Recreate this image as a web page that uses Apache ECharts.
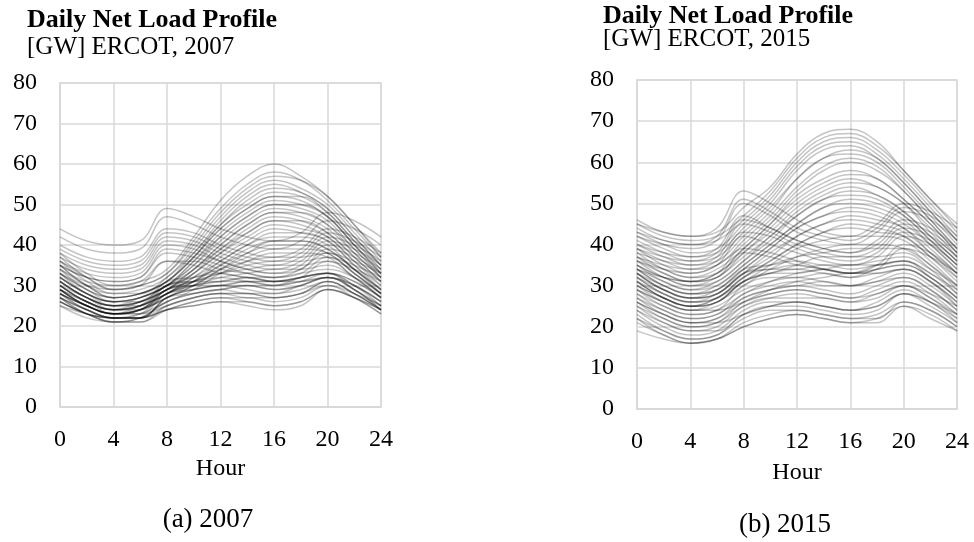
<!DOCTYPE html>
<html>
<head>
<meta charset="utf-8">
<script src="https://cdn.jsdelivr.net/npm/echarts@6/dist/echarts.min.js"></script>
<style>
  html, body { margin: 0; padding: 0; background: #fff; }
  #chart { width: 974px; height: 542px; }
</style>
</head>
<body>
<div id="chart"></div>
<script>
// Hours sampled every two hours across the day
const hours = [0, 2, 4, 6, 8, 10, 12, 14, 16, 18, 20, 22, 24];
const xTicks = [0, 4, 8, 12, 16, 20, 24];
const yTicks = [0, 10, 20, 30, 40, 50, 60, 70, 80];

// ERCOT 2007 daily net load profiles [GW]
const profiles2007 = [
  // summer days, afternoon peak
  [38,33,30,31,34,42,51,57,60,57,52,45,38],
  [37,32,29,30,33,41,49,55,58,56,51,44,37],
  [36,32,29,30,33,40,48,54,57,56,52,45,37],
  [36,31,28,29,32,39,47,53,56,54,50,43,36],
  [35,30,28,28,32,38,46,52,55,53,49,42,35],
  [35,30,27,28,31,37,45,50,53,52,48,41,35],
  [34,30,27,28,31,38,45,51,54,53,49,42,35],
  [34,29,27,28,31,37,44,49,52,51,47,40,34],
  [33,29,27,28,31,37,44,49,52,52,48,41,34],
  [33,29,26,27,30,36,43,48,51,50,47,40,33],
  [33,28,26,27,30,35,42,47,50,49,46,39,33],
  [32,28,26,27,30,36,42,47,50,50,47,40,33],
  [32,28,26,27,30,35,41,46,49,48,45,38,32],
  [32,28,25,27,30,34,40,45,48,47,44,38,32],
  [31,27,25,26,29,34,39,44,47,46,43,37,31],
  [31,27,25,26,29,34,40,45,48,48,45,39,32],
  [31,27,25,26,29,33,38,43,46,45,42,36,31],
  [30,27,24,26,29,33,38,42,45,44,42,36,30],
  [30,26,24,25,28,33,39,43,46,46,43,37,31],
  [30,26,24,25,28,32,37,41,44,43,41,35,30],
  [29,26,24,25,28,32,36,40,42,42,40,34,29],
  [29,26,23,25,28,31,35,39,41,41,39,34,29],
  [29,25,23,24,27,31,36,40,43,43,41,35,29],
  [29,25,23,24,28,31,35,38,40,40,38,33,28],
  [28,25,23,24,27,30,34,37,39,39,38,33,28],
  [28,25,23,24,27,30,34,38,41,41,39,34,28],
  [27,24,22,23,26,29,33,36,38,38,37,32,27],
  // shoulder days, moderate afternoon
  [31,27,25,26,30,32,34,36,37,37,38,34,29],
  [30,26,24,25,29,31,33,35,36,36,37,33,28],
  [29,25,23,24,29,31,33,34,35,35,36,32,27],
  [28,25,23,24,28,30,32,33,34,34,35,32,27],
  // winter days, morning and evening peaks
  [44,41,40,41,49,47,44,42,41,43,48,46,42],
  [42,39,38,39,47,45,42,40,39,41,46,44,40],
  [40,37,36,37,44,43,40,38,37,39,44,42,38],
  [39,36,35,36,43,42,39,37,36,38,43,41,37],
  [38,35,34,35,42,41,38,36,35,37,42,40,36],
  [37,34,33,34,41,40,37,35,34,36,41,39,35],
  [36,33,32,33,40,39,36,34,33,35,40,38,34],
  [35,32,31,32,38,37,35,33,32,34,38,36,33],
  [35,32,31,32,39,38,36,34,33,34,39,37,33],
  [34,31,30,31,36,36,34,33,32,33,37,35,32],
  [33,30,29,30,36,35,33,32,31,32,36,34,31],
  // mild days, flat midday
  [32,28,26,26,31,32,33,32,32,33,34,32,28],
  [31,27,25,25,30,31,31,32,31,32,33,31,27],
  [30,26,24,25,30,31,32,31,30,31,33,31,27],
  [30,26,24,24,29,30,31,31,30,32,33,30,26],
  [29,25,23,24,29,30,30,31,31,31,32,30,26],
  [29,25,23,23,28,29,30,29,28,30,32,30,26],
  [28,24,22,23,28,30,31,32,31,32,33,30,25],
  [28,24,22,22,27,28,29,30,29,30,32,29,25],
  [27,24,22,22,27,29,30,31,31,32,33,29,25],
  [27,23,22,22,27,29,30,30,29,30,32,29,24],
  [27,23,21,22,26,28,29,28,28,29,31,28,24],
  [26,23,21,22,26,28,29,30,30,31,32,29,24],
  [26,23,22,22,25,27,28,28,27,28,31,28,24],
  [26,23,21,21,25,27,28,27,27,28,31,28,24],
  [25,22,21,21,24,26,27,27,26,27,30,27,23],
  [25,23,22,22,24,25,26,25,24,25,29,27,23],
  [26,23,22,22,24,25,26,26,25,26,29,27,24],
  [27,24,22,22,24,26,27,26,25,26,29,27,24],
  [28,25,23,23,25,27,28,28,27,28,30,28,25]
];

// ERCOT 2015 daily net load profiles [GW]
const profiles2015 = [
  // summer days, afternoon peak
  [46,43,42,43,49,54,62,67,68,65,58,51,45],
  [45,42,41,42,47,53,61,66,67,64,58,51,44],
  [44,41,40,41,46,52,60,65,66,63,57,50,43],
  [43,40,38,39,45,51,59,64,65,62,56,49,42],
  [42,39,37,38,44,50,58,63,64,61,55,48,41],
  [41,38,36,37,43,49,56,61,63,61,55,48,41],
  [40,37,35,36,42,48,56,61,62,60,54,47,40],
  [39,36,34,35,41,47,54,59,61,59,53,46,39],
  [39,35,33,35,40,46,53,58,60,58,53,46,39],
  [38,34,32,34,39,45,52,56,58,56,51,45,38],
  [37,34,32,33,39,45,51,55,57,56,51,45,38],
  [37,33,31,33,38,44,50,54,56,54,50,44,37],
  [36,33,31,32,38,43,49,53,55,54,50,43,37],
  [36,32,30,32,37,42,48,52,54,52,48,42,36],
  [35,32,30,31,36,42,47,51,53,52,48,42,36],
  [35,31,29,31,36,41,47,51,52,51,47,41,35],
  [34,31,29,30,35,40,45,49,51,50,47,41,35],
  [34,30,28,30,35,40,45,49,50,49,46,40,34],
  [33,30,28,29,34,39,44,47,49,48,45,40,34],
  [33,29,27,29,34,39,44,47,48,47,44,39,33],
  [32,29,27,28,33,37,42,45,47,46,44,38,33],
  [32,28,26,28,33,38,42,45,46,45,43,38,32],
  [31,28,26,27,32,36,40,43,45,44,42,37,32],
  [31,27,25,27,32,36,40,43,44,43,42,37,31],
  [30,27,25,27,31,35,39,41,42,42,41,36,30],
  [29,26,24,26,30,34,37,39,40,40,39,35,29],
  // winter days, morning and evening peaks
  [45,43,42,44,53,50,46,43,42,45,50,48,44],
  [43,41,40,42,51,48,44,42,41,44,49,47,42],
  [42,40,39,41,50,47,43,41,40,43,48,46,41],
  [40,38,37,39,47,44,41,39,38,41,46,44,39],
  [39,37,36,38,46,44,41,39,38,40,45,43,38],
  [38,36,35,37,45,43,40,38,37,39,44,42,37],
  [37,35,34,36,43,42,39,37,36,38,43,41,36],
  [36,34,33,35,42,40,38,36,35,37,42,40,35],
  [35,32,31,33,39,38,36,34,33,35,40,38,33],
  [34,32,31,32,38,37,35,34,33,34,39,37,33],
  // shoulder days, moderate afternoon
  [33,29,27,28,33,35,37,38,39,39,39,35,30],
  [31,27,25,26,31,33,35,37,37,37,38,34,28],
  [28,25,23,24,28,31,33,34,35,35,36,32,27],
  [26,23,21,22,26,29,31,32,33,33,34,31,25],
  // mild days, flat midday
  [34,30,28,29,34,35,36,35,35,36,37,34,30],
  [33,29,27,28,33,34,35,34,33,35,36,33,29],
  [32,28,26,27,32,34,34,35,34,35,36,33,28],
  [31,27,25,26,31,33,34,33,32,34,35,32,27],
  [30,27,25,26,31,33,33,34,33,34,35,32,27],
  [29,26,24,25,29,31,32,31,30,32,34,31,26],
  [29,25,23,24,30,32,32,33,32,33,34,31,26],
  [28,24,22,23,28,30,31,30,30,31,33,30,25],
  [27,24,22,23,27,29,30,29,28,30,32,29,24],
  [27,23,21,22,27,29,30,31,30,31,32,29,24],
  [26,22,20,21,26,28,29,28,27,29,31,28,23],
  [25,22,20,21,25,27,28,27,26,28,30,27,23],
  [25,21,19,20,25,27,27,27,26,27,30,27,22],
  [24,21,19,19,23,25,26,25,24,25,28,26,21],
  [24,20,18,19,24,26,26,25,24,26,29,26,22],
  [23,19,17,18,23,25,25,24,23,24,28,25,21],
  [22,19,17,18,22,24,24,23,22,23,26,24,20],
  [22,18,16,17,21,23,24,23,22,22,26,24,20],
  [21,18,16,17,20,22,23,22,21,21,25,23,19],
  [19,17,16,17,20,22,23,22,21,22,25,22,19],
  [26,23,21,21,23,25,26,25,24,25,28,26,23],
  [30,26,24,24,26,28,29,28,27,28,30,28,25]
];

const SERIF = '"Liberation Serif", "Times New Roman", serif';
const GRID_GRAY = '#d9d9d9';
const LINE_COLOR = 'rgba(0,0,0,0.23)';

const panels = [
  { profiles: profiles2007, title: 'Daily Net Load Profile', sub: '[GW] ERCOT, 2007', caption: '(a) 2007',
    grid: { left: 60, top: 83, width: 321, height: 324 },
    titleLeft: 27, titleTop: 7, subTop: 35, nameGap: 49, captionX: 208, captionTop: 506 },
  { profiles: profiles2015, title: 'Daily Net Load Profile', sub: '[GW] ERCOT, 2015', caption: '(b) 2015',
    grid: { left: 637, top: 80, width: 320, height: 329 },
    titleLeft: 603, titleTop: 3, subTop: 27, nameGap: 52, captionX: 785, captionTop: 511 }
];

const chart = echarts.init(document.getElementById('chart'), null, { renderer: 'canvas' });

const option = {
  animation: false,
  backgroundColor: '#fff',
  title: [],
  grid: [],
  xAxis: [],
  yAxis: [],
  series: []
};

panels.forEach((p, i) => {
  option.title.push({
    text: p.title, left: p.titleLeft, top: p.titleTop, padding: 0,
    textStyle: { fontFamily: SERIF, fontWeight: 'bold', fontSize: 26, color: '#000' }
  });
  option.title.push({
    text: p.sub, left: p.titleLeft, top: p.subTop, padding: 0,
    textStyle: { fontFamily: SERIF, fontWeight: 'normal', fontSize: 25, color: '#000' }
  });
  option.title.push({
    text: p.caption, left: p.captionX, top: p.captionTop, padding: 0,
    textAlign: 'center',
    textStyle: { fontFamily: SERIF, fontWeight: 'normal', fontSize: 27, color: '#000' }
  });
  option.grid.push(Object.assign({ show: true, borderColor: GRID_GRAY, borderWidth: 1.5, containLabel: false }, p.grid));
  option.xAxis.push({
    type: 'value', gridIndex: i, min: xTicks[0], max: xTicks[xTicks.length - 1], interval: 4,
    name: 'Hour', nameLocation: 'middle', nameGap: p.nameGap,
    nameTextStyle: { fontFamily: SERIF, fontSize: 24, color: '#000' },
    axisLine: { show: true, lineStyle: { color: GRID_GRAY, width: 1.5 } },
    axisTick: { show: false },
    axisLabel: { fontFamily: SERIF, fontSize: 24, color: '#000', margin: 21 },
    splitLine: { show: true, lineStyle: { color: GRID_GRAY, width: 1.5 } }
  });
  option.yAxis.push({
    type: 'value', gridIndex: i, min: yTicks[0], max: yTicks[yTicks.length - 1], interval: 10,
    axisLine: { show: true, lineStyle: { color: GRID_GRAY, width: 1.5 } },
    axisTick: { show: false },
    axisLabel: { fontFamily: SERIF, fontSize: 24, color: '#000', margin: 23 },
    splitLine: { show: true, lineStyle: { color: GRID_GRAY, width: 1.5 } }
  });
  p.profiles.forEach(day => {
    option.series.push({
      type: 'line', xAxisIndex: i, yAxisIndex: i, silent: true,
      data: hours.map((h, k) => [h, day[k]]),
      smooth: 0.4, showSymbol: false, symbol: 'none',
      lineStyle: { color: LINE_COLOR, width: 1.5 }
    });
  });
});

chart.setOption(option);
</script>
</body>
</html>
